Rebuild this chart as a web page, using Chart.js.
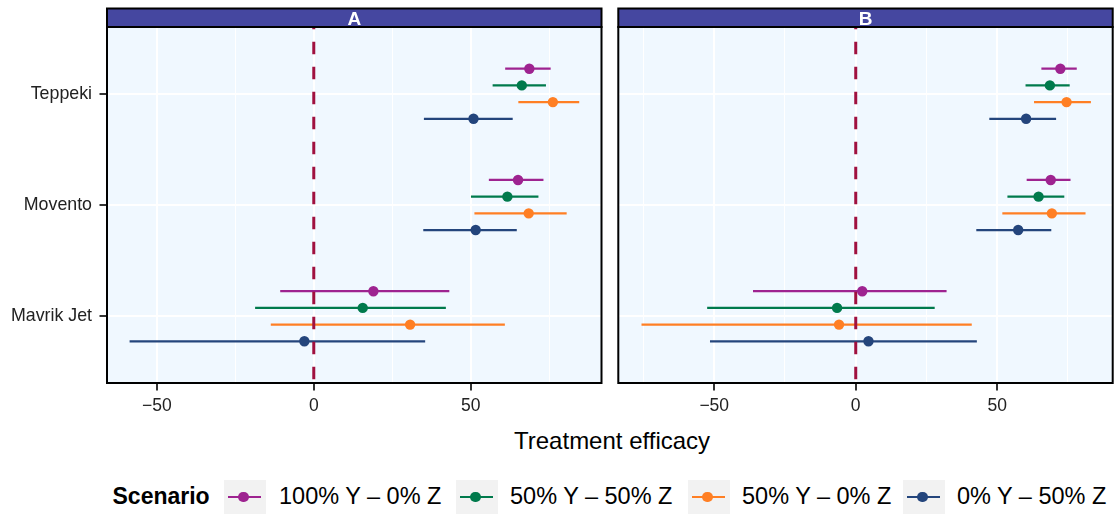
<!DOCTYPE html>
<html>
<head>
<meta charset="utf-8">
<script src="https://cdn.jsdelivr.net/npm/chart.js@4.4.1/dist/chart.umd.min.js"></script>
<style>
html,body{margin:0;padding:0;background:#fff;}
#wrap{position:relative;width:1114px;height:514px;overflow:hidden;font-family:'Liberation Sans',Arial,sans-serif;}
#cA{position:absolute;left:0;top:0;width:610px;height:420px;}
#cB{position:absolute;left:610px;top:0;width:504px;height:420px;}
.txt{position:absolute;white-space:nowrap;line-height:1;color:#000;}
.key{position:absolute;top:480px;width:42px;height:40px;background:#F2F2F2;}
.key .ln{position:absolute;left:3.5px;width:33.5px;top:15.5px;height:2.4px;}
.key .pt{position:absolute;left:14px;top:11.5px;width:10.5px;height:10.5px;border-radius:50%;}
</style>
</head>
<body>
<div id="wrap">
  <canvas id="cA" width="610" height="420"></canvas>
  <canvas id="cB" width="504" height="420"></canvas>
  <div class="txt" id="xtitle" style="font-size:24px;left:514px;top:429px;">Treatment efficacy</div>
  <div class="txt" style="font-size:23px;font-weight:bold;left:112.5px;top:485px;">Scenario</div>
  <div id="legend"></div>
</div>
<script>
// ---- data ----
const categories = ['Teppeki', 'Movento', 'Mavrik Jet'];
const scenarios = ['100% Y \u2013 0% Z', '50% Y \u2013 50% Z', '50% Y \u2013 0% Z', '0% Y \u2013 50% Z'];
const colors = ['#9E2390', '#007A4C', '#FF7F24', '#24457C'];
const panels = ['A', 'B'];

// Panel A: rows = scenarios, columns = categories
const estA = [[68.7, 65.1, 19.0], [66.3, 61.7, 15.6], [76.2, 68.5, 30.7], [50.9, 51.6, -3.0]];
const loA  = [[61.0, 55.8, -10.7], [57.0, 50.1, -18.7], [65.2, 51.2, -13.7], [35.1, 34.9, -58.7]];
const hiA  = [[75.5, 73.2, 43.2], [74.0, 71.6, 42.1], [84.6, 80.6, 60.9], [63.4, 64.7, 35.5]];

// Panel B
const estB = [[72.3, 68.9, 2.3], [68.6, 64.6, -6.6], [74.5, 69.3, -5.9], [60.2, 57.4, 4.5]];
const loB  = [[65.6, 60.4, -36.3], [60.0, 53.6, -52.5], [63.0, 51.8, -75.7], [47.2, 42.6, -51.5]];
const hiB  = [[78.1, 75.9, 32.1], [75.6, 73.7, 27.9], [83.1, 81.2, 41.0], [70.8, 69.1, 42.8]];

const xMajorTicks = [-50, 0, 50];
const xMinorTicks = [-75, -25, 25, 75];
const refLine = 0;
const xLimA = [-65.9, 91.7];
const xLimB = [-83.9, 90.8];

// ---- layout constants ----
const dodge = [-0.225, -0.075, 0.075, 0.225];
const FONT = "'Liberation Sans', Arial, sans-serif";
Chart.defaults.font.family = FONT;

function fmt(v){ return v < 0 ? '\u2212' + Math.abs(v) : String(v); }

function buildDatasets(est, lo, hi){
  const ds = [];
  scenarios.forEach((s, si) => {
    categories.forEach((c, ci) => {
      const yv = ci + 1 + dodge[si];
      ds.push({type:'scatter', showLine:true, data:[{x:lo[si][ci], y:yv}, {x:hi[si][ci], y:yv}],
        borderColor:colors[si], borderWidth:2.3, pointRadius:0, order:2});
    });
  });
  ds.push({type:'scatter', showLine:true, data:[{x:refLine, y:0.4}, {x:refLine, y:3.6}],
    borderColor:'#A0103F', borderWidth:3, borderDash:[12.5, 12.5], borderDashOffset:10.3, pointRadius:0, order:1});
  scenarios.forEach((s, si) => {
    ds.push({type:'scatter', label:s, data:categories.map((c, ci) => ({x:est[si][ci], y:ci + 1 + dodge[si]})),
      pointRadius:5.2, pointBackgroundColor:colors[si], pointBorderWidth:0, borderColor:colors[si], order:0});
  });
  return ds;
}

const panelPlugin = {
  id:'panelDeco',
  beforeDraw(chart, args, opts){
    const {ctx, chartArea:a} = chart;
    ctx.save();
    ctx.fillStyle = '#F0F8FF';
    ctx.fillRect(a.left, a.top, a.right - a.left, a.bottom - a.top);
    ctx.fillStyle = '#4547A0';
    ctx.fillRect(a.left, a.top - 18.5, a.right - a.left, 18.5);
    ctx.strokeStyle = '#000'; ctx.lineWidth = 2;
    ctx.strokeRect(a.left, a.top - 18.5, a.right - a.left, 18.5);
    ctx.fillStyle = '#fff';
    ctx.font = 'bold 19px ' + FONT;
    ctx.textAlign = 'center'; ctx.textBaseline = 'alphabetic';
    ctx.fillText(opts.label, (a.left + a.right) / 2, a.top - 2.3);
    ctx.restore();
  },
  afterDraw(chart){
    const {ctx, chartArea:a} = chart;
    ctx.save();
    ctx.strokeStyle = '#000'; ctx.lineWidth = 2;
    ctx.strokeRect(a.left, a.top, a.right - a.left, a.bottom - a.top);
    ctx.restore();
  }
};

function makeChart(id, label, est, lo, hi, xlim, showY, pad){
  const allX = xMajorTicks.concat(xMinorTicks).sort((a, b) => a - b);
  return new Chart(document.getElementById(id), {
    type:'scatter',
    data:{datasets:buildDatasets(est, lo, hi)},
    plugins:[panelPlugin],
    options:{
      responsive:false, animation:false, events:[],
      layout:{padding:pad, autoPadding:false},
      plugins:{legend:{display:false}, tooltip:{enabled:false}, panelDeco:{label:label}},
      scales:{
        x:{
          type:'linear', min:xlim[0], max:xlim[1],
          afterBuildTicks:s => { s.ticks = allX.filter(v => v >= xlim[0] && v <= xlim[1]).map(v => ({value:v})); },
          afterFit:s => { s.height = 37; },
          ticks:{callback:v => xMajorTicks.includes(v) ? fmt(v) : '', color:'#222', font:{size:17.5}, padding:5, autoSkip:false, maxRotation:0},
          grid:{color:'#fff', lineWidth:c => (c.tick && xMajorTicks.includes(c.tick.value)) ? 2 : 1,
            tickLength:7.5, tickWidth:2,
            tickColor:c => (c.tick && xMajorTicks.includes(c.tick.value)) ? '#333' : 'rgba(0,0,0,0)'},
          border:{display:false}
        },
        y:{
          type:'linear', min:0.4, max:3.6, reverse:true,
          afterBuildTicks:s => { s.ticks = categories.map((c, i) => ({value:i + 1})); },
          afterFit:s => { s.width = showY ? 107 : 0; },
          ticks:{display:showY, callback:v => categories[Math.round(v) - 1], color:'#222', font:{size:17.8}, padding:7.5, autoSkip:false},
          grid:{color:'#fff', lineWidth:2, drawTicks:showY, tickLength:7.5, tickWidth:2, tickColor:'#333'},
          border:{display:false}
        }
      }
    }
  });
}

makeChart('cA', panels[0], estA, loA, hiA, xLimA, true, {left:0, right:8.5, top:27, bottom:0});
makeChart('cB', panels[1], estB, loB, hiB, xLimB, false, {left:8.3, right:1.3, top:27, bottom:0});

// ---- legend ----
const boxLeft = [224, 456, 688, 903];
const textLeft = [279, 510, 742, 957];
const lg = document.getElementById('legend');
scenarios.forEach((s, i) => {
  const k = document.createElement('div');
  k.className = 'key'; k.style.left = boxLeft[i] + 'px';
  k.innerHTML = '<div class="ln" style="background:' + colors[i] + '"></div><div class="pt" style="background:' + colors[i] + '"></div>';
  lg.appendChild(k);
  const t = document.createElement('div');
  t.className = 'txt'; t.style.fontSize = '23.5px'; t.style.left = textLeft[i] + 'px'; t.style.top = '485px';
  t.textContent = s;
  lg.appendChild(t);
});
</script>
</body>
</html>
